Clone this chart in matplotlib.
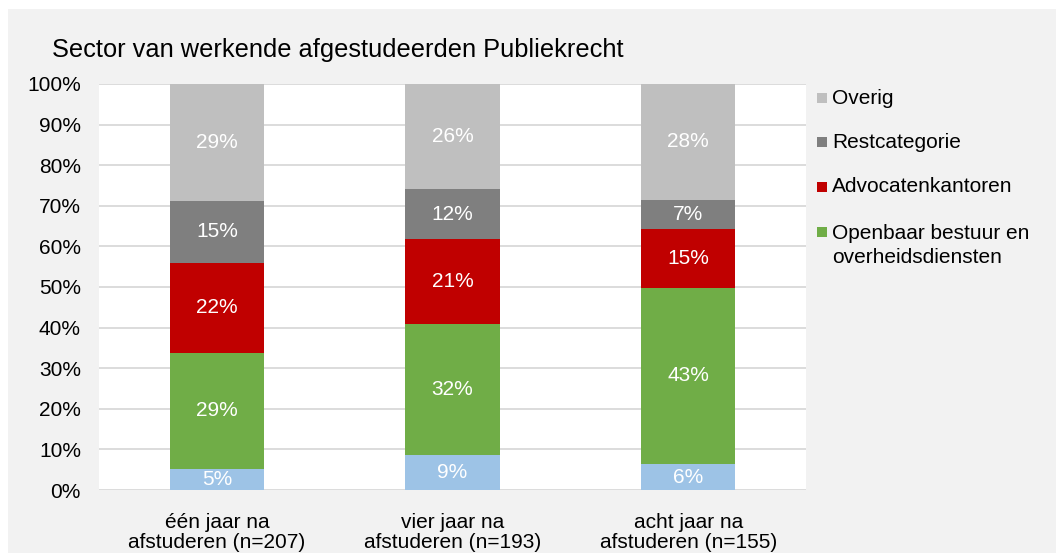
#!/usr/bin/env python3

import matplotlib.pyplot as plt
from matplotlib.patches import Rectangle

plt.rcParams["font.family"] = ["Liberation Sans", "DejaVu Sans"]

# data (percent of graduates per sector)
categories = ["één jaar na\nafstuderen (n=207)",
              "vier jaar na\nafstuderen (n=193)",
              "acht jaar na\nafstuderen (n=155)"]
onbekend = [5.2, 8.6, 6.4]
openbaar = [28.6, 32.3, 43.4]
advocaten = [22.1, 20.8, 14.6]
rest = [15.4, 12.4, 7.1]
overig = [28.7, 25.9, 28.5]

series = [
    ("", onbekend, "#9dc3e6"),
    ("Openbaar bestuur en\noverheidsdiensten", openbaar, "#70ad47"),
    ("Advocatenkantoren", advocaten, "#c00000"),
    ("Restcategorie", rest, "#7f7f7f"),
    ("Overig", overig, "#bfbfbf"),
]

W, H = 1056, 553
fig = plt.figure(figsize=(W / 100, H / 100), dpi=100)
fig.patch.set_facecolor("white")
fig.patches.append(Rectangle((8 / W, 0), 1, 1 - 9 / H, transform=fig.transFigure,
                             facecolor="#f2f2f2", edgecolor="none", zorder=-10))

ax = fig.add_axes([99 / W, 1 - 490 / H, (806 - 99) / W, (490 - 84) / H])
ax.set_facecolor("white")

x = range(len(categories))
bottom = [0.0] * len(categories)
for name, vals, col in series:
    bars = ax.bar(x, vals, 0.4, bottom=bottom, color=col, zorder=3)
    ax.bar_label(bars, labels=[f"{v:.0f}%" for v in vals], label_type="center",
                 color="white", fontsize=15)
    bottom = [b + v for b, v in zip(bottom, vals)]

ax.set_xlim(-0.5, 2.5)
ax.set_ylim(0, 100)
ax.set_yticks(range(0, 101, 10))
ax.set_yticklabels([f"{t}%" for t in range(0, 101, 10)], fontsize=15)
ax.set_xticks(list(x))
ax.set_xticklabels(categories, fontsize=15, linespacing=1.08)
ax.tick_params(axis="y", length=0, pad=13)
ax.tick_params(axis="x", length=0, pad=16.5)
ax.grid(axis="y", color="#d9d9d9", linewidth=1.3, zorder=0)
ax.set_axisbelow(True)
for s in ax.spines.values():
    s.set_visible(False)

fig.text(52 / W, 1 - 50 / H, "Sector van werkende afgestudeerden Publiekrecht",
         fontsize=18.3, va="center", ha="left")

# legend, drawn by hand to match the wrapped entry
leg_y = [98, 142, 187, 232]
for (name, vals, col), y in zip(series[::-1], leg_y):
    fig.patches.append(Rectangle((817 / W, 1 - (y + 5) / H), 10 / W, 10 / H,
                                 transform=fig.transFigure, facecolor=col,
                                 edgecolor="none"))
    ty = y + 13.5 if "\n" in name else y
    fig.text(832 / W, 1 - ty / H, name, fontsize=15, va="center",
             ha="left", linespacing=1.3)

fig.savefig("out.png", dpi=100)
